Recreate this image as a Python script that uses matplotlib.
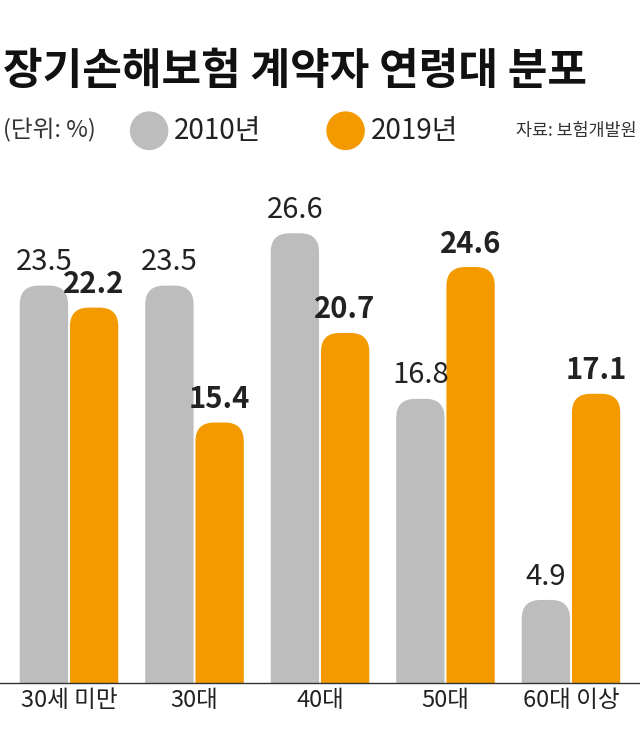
import matplotlib
matplotlib.use("Agg")
import matplotlib.pyplot as plt
from matplotlib.patches import FancyBboxPatch, Ellipse

plt.rcParams['font.family'] = ['Noto Sans CJK KR', 'DejaVu Sans']

categories = ["30세 미만", "30대", "40대", "50대", "60대 이상"]
v2010 = [23.5, 23.5, 26.6, 16.8, 4.9]
v2019 = [22.2, 15.4, 20.7, 24.6, 17.1]
series_names = ["2010년", "2019년"]
gray, orange = "#BDBDBD", "#F39A00"

fig = plt.figure(figsize=(6.4, 7.47), dpi=100)
ax = fig.add_axes([0.0, 0.086, 1.0, 0.69])
ax.set_xlim(-0.55, 4.55)
ax.set_ylim(0, 30.5)
ax.axis('off')

w = 0.385
xr = 5.1 / 640; yr = 30.5 / (0.69 * 747)
asp = yr / xr
for i in range(len(categories)):
    for off, val, col, bold in [(-0.2, v2010[i], gray, False), (0.2, v2019[i], orange, True)]:
        x0 = i + off - w / 2
        p = FancyBboxPatch((x0, -3), w, val + 3,
                           boxstyle="round,pad=0,rounding_size=0.15",
                           mutation_aspect=asp, fc=col, ec='none', clip_on=True)
        ax.add_patch(p)
        ax.text(i + off, val + 0.5, f"{val:.1f}", ha='center', va='bottom',
                fontsize=21, fontweight='bold' if bold else 'normal', color='#222222')

fig.add_artist(plt.Line2D([0, 1], [0.086, 0.086], color='#333333', lw=1))
for i, c in enumerate(categories):
    xf = (i + 0.55) / 5.1
    fig.text(xf, 0.062, c, ha='center', va='center', fontsize=17, color='#222222')

fig.text(0.005, 0.905, "장기손해보험 계약자 연령대 분포", fontsize=31, fontweight='bold', color='#111111', va='center')
fig.text(0.005, 0.825, "(단위: %)", fontsize=17, color='#333333', va='center')
fig.add_artist(Ellipse((0.233, 0.825), 0.058, 0.05, color=gray, transform=fig.transFigure))
fig.text(0.272, 0.825, "2010년", fontsize=20, color='#222222', va='center')
fig.add_artist(Ellipse((0.54, 0.825), 0.058, 0.05, color=orange, transform=fig.transFigure))
fig.text(0.58, 0.825, "2019년", fontsize=20, color='#222222', va='center')
fig.text(0.995, 0.825, "자료: 보험개발원", fontsize=12.5, color='#333333', va='center', ha='right')

fig.savefig("out.png", dpi=100, facecolor='white')
